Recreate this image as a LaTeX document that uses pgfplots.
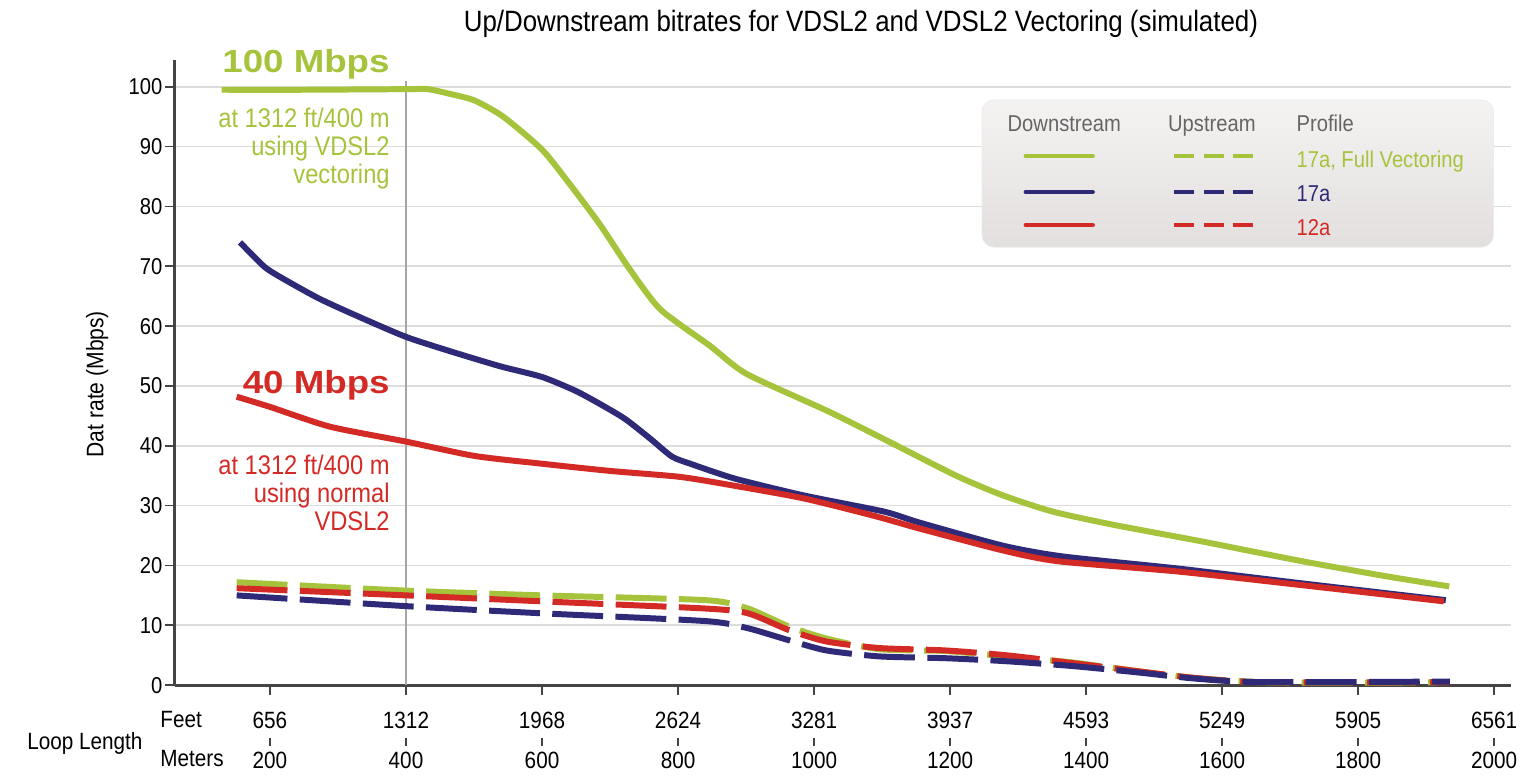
\documentclass[border=0pt]{standalone}
\usepackage{fontspec}
\setmainfont{Liberation Sans}[FakeStretch=0.88]
\newfontfamily\heavy{Liberation Sans}[FakeStretch=1.15]
\usepackage{pgfplots}
\pgfplotsset{compat=1.18}

\definecolor{vgreen}{HTML}{A5C33B}
\definecolor{vnavy}{HTML}{2E2A78}
\definecolor{vred}{HTML}{D32A26}
\definecolor{axgray}{HTML}{444444}
\definecolor{grgray}{HTML}{DCDCDC}
\definecolor{hdgray}{HTML}{666666}
\definecolor{legtop}{HTML}{F5F3F2}
\definecolor{legbot}{HTML}{E2DFDE}

\begin{document}
\begin{tikzpicture}
\begin{axis}[
    scale only axis,
    width=670pt, height=313.5pt,
    xmin=60, xmax=2025, ymin=0, ymax=104.5,
    axis lines=left,
    axis line style={-, line width=1.5pt, color=axgray},
    clip=false,
    ymajorgrids,
    grid style={line width=0.8pt, color=grgray},
    tick align=outside,
    major tick length=5pt,
    tick style={line width=0.8pt, color=axgray},
    ytick={0,10,...,100},
    xtick={200,400,...,2000},
    xticklabels={{656\\200},{1312\\400},{1968\\600},{2624\\800},{3281\\1000},
                 {3937\\1200},{4593\\1400},{5249\\1600},{5905\\1800},{6561\\2000}},
    xticklabel style={align=center, font=\fontsize{11.8}{20}\selectfont, text=black, yshift=-5pt},
    yticklabel style={font=\fontsize{11.5}{12}\selectfont, inner sep=1pt},
    /pgf/number format/assume math mode=true,
    every axis plot/.append style={line width=3pt, smooth, tension=0.4},
]

% background: legend box and reference line
\shade[top color=legtop, bottom color=legbot, rounded corners=6pt, draw=gray!15]
    (axis cs:1247,97.8) rectangle (axis cs:1999,73.2);
\draw[gray!70, line width=0.8pt] (axis cs:400,0) -- (axis cs:400,101);
% small bars between the feet and meter labels
\pgfplotsinvokeforeach{200,400,...,2000}{
  \draw[axgray, line width=0.8pt] (axis cs:#1,0) ++(0pt,-26.5pt) -- ++(0pt,-4pt);
}

% upstream
\addplot[vgreen, dash pattern=on 25.5pt off 6.2pt] coordinates {
(151,17.2)(400,15.8)(600,15.0)(841,14.2)(903,12.8)(963,9.8)(1018,7.8)(1096,6.0)
(1193,5.7)(1282,4.8)(1379,3.8)(1478,2.3)(1560,1.2)(1657,0.5)(1800,0.4)(1935,0.5)};
\addplot[vred, dash pattern=on 25.5pt off 6.2pt] coordinates {
(151,16.2)(400,15.0)(600,14.0)(841,12.8)(903,12.0)(963,9.2)(1018,7.3)(1096,6.2)
(1193,5.8)(1282,5.0)(1379,3.7)(1478,2.3)(1560,1.2)(1657,0.5)(1935,0.5)};
\addplot[vnavy, dash pattern=on 25.5pt off 6.2pt] coordinates {
(151,15.0)(400,13.2)(600,12.0)(841,10.7)(903,9.5)(963,7.5)(1018,5.8)(1096,4.8)
(1193,4.5)(1282,4.0)(1379,3.2)(1478,2.1)(1560,1.1)(1657,0.5)(1935,0.6)};

% downstream
\addplot[vgreen] coordinates {
(129,99.5)(250,99.5)(400,99.6)(432,99.6)(465,98.8)(501,97.7)(543,95.0)(600,89.5)
(641,83.7)(685,77.0)(729,69.5)(774,62.8)(847,56.7)(901,52.0)
(1022,45.7)(1110,40.7)(1209,35.0)(1278,31.7)(1351,29.0)(1440,26.8)(1571,24.0)
(1718,20.7)(1841,18.2)(1934,16.5)};
\addplot[vnavy] coordinates {
(156,74.0)(193,69.8)(229,67.3)(274,64.5)(332,61.5)(400,58.2)(465,55.8)(538,53.3)
(600,51.5)(649,49.2)(685,47.0)(722,44.5)(759,41.2)(791,38.2)(818,37.0)(884,34.5)
(985,31.7)(1103,29.0)(1154,27.2)(1278,23.3)(1366,21.5)(1534,19.5)(1718,17.0)(1929,14.2)};
\addplot[vred] coordinates {
(151,48.2)(200,46.5)(288,43.2)(400,40.7)(501,38.3)(600,37.0)(700,35.8)(803,34.8)
(884,33.3)(985,31.2)(1088,28.3)(1154,26.2)(1278,22.5)(1359,20.7)(1534,19.0)
(1718,16.7)(1926,14.0)};

% legend content
\begin{scope}[every node/.style={inner sep=0pt, font=\fontsize{11.5}{12}\selectfont}]
\node[anchor=base, text=hdgray] at (axis cs:1368,92.5) {Downstream};
\node[anchor=base, text=hdgray] at (axis cs:1585,92.5) {Upstream};
\node[anchor=base west, text=hdgray] at (axis cs:1709,92.5) {Profile};
\draw[vgreen, line width=2pt, line cap=round] (axis cs:1311,88.4) -- (axis cs:1410,88.4);
\draw[vnavy, line width=2pt, line cap=round] (axis cs:1311,82.4) -- (axis cs:1410,82.4);
\draw[vred, line width=2pt, line cap=round] (axis cs:1311,76.9) -- (axis cs:1410,76.9);
\draw[vgreen, line width=2pt, dash pattern=on 10pt off 4.6pt] (axis cs:1530,88.4) -- (axis cs:1646,88.4);
\draw[vnavy, line width=2pt, dash pattern=on 10pt off 4.6pt] (axis cs:1530,82.4) -- (axis cs:1646,82.4);
\draw[vred, line width=2pt, dash pattern=on 10pt off 4.6pt] (axis cs:1530,76.9) -- (axis cs:1646,76.9);
\node[anchor=base west, text=vgreen] at (axis cs:1709,86.5) {17a, Full Vectoring};
\node[anchor=base west, text=vnavy] at (axis cs:1709,80.9) {17a};
\node[anchor=base west, text=vred] at (axis cs:1709,75.2) {12a};
\end{scope}

% annotations
\begin{scope}[every node/.style={inner sep=0pt}]
\node[anchor=base, font=\fontsize{14.75}{16}\selectfont] at (axis cs:1069,109.2)
    {Up/Downstream bitrates for VDSL2 and VDSL2 Vectoring (simulated)};
\node[anchor=base east, text=vgreen, font=\heavy\bfseries\fontsize{16}{18}\selectfont] at (axis cs:376.5,102.3) {100 Mbps};
\node[anchor=base east, text=vred, font=\heavy\bfseries\fontsize{16}{18}\selectfont] at (axis cs:376.5,48.7) {40 Mbps};
\node[anchor=base east, text=vgreen, font=\fontsize{13.5}{14}\selectfont] at (axis cs:376.5,93.2) {at 1312 ft/400 m};
\node[anchor=base east, text=vgreen, font=\fontsize{13.5}{14}\selectfont] at (axis cs:376.5,88.5) {using VDSL2};
\node[anchor=base east, text=vgreen, font=\fontsize{13.5}{14}\selectfont] at (axis cs:376.5,83.8) {vectoring};
\node[anchor=base east, text=vred, font=\fontsize{13.5}{14}\selectfont] at (axis cs:376.5,35.2) {at 1312 ft/400 m};
\node[anchor=base east, text=vred, font=\fontsize{13.5}{14}\selectfont] at (axis cs:376.5,30.5) {using normal};
\node[anchor=base east, text=vred, font=\fontsize{13.5}{14}\selectfont] at (axis cs:376.5,25.8) {VDSL2};
\node[rotate=90, font=\fontsize{12}{12}\selectfont] at (axis cs:-54,50.3) {Dat rate (Mbps)};
\node[anchor=base east, font=\fontsize{11.8}{12}\selectfont] at (axis cs:13.2,-10.83) {Loop Length};
\node[anchor=base west, font=\fontsize{11.8}{12}\selectfont] at (axis cs:38.2,-7.0) {Feet};
\node[anchor=base west, font=\fontsize{11.8}{12}\selectfont] at (axis cs:38.2,-13.67) {Meters};
\end{scope}
\path (axis cs:-197,-14.83) rectangle (axis cs:2066,114.5);
\end{axis}
\end{tikzpicture}
\end{document}
